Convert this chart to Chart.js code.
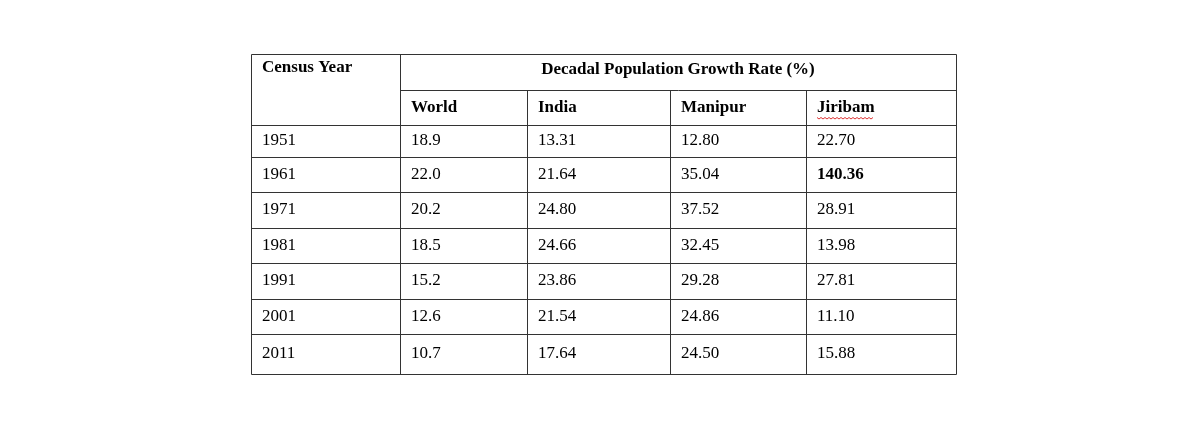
<!DOCTYPE html>
<html>
<head>
<meta charset="utf-8">
<script src="https://cdn.jsdelivr.net/npm/chart.js@4/dist/chart.umd.min.js"></script>
<style>
  html, body { margin: 0; padding: 0; background: #fff; }
  #wrap { width: 1200px; height: 430px; }
</style>
</head>
<body>
<div id="wrap"><canvas id="tableChart"></canvas></div>
<script>
const censusYears = ["1951", "1961", "1971", "1981", "1991", "2001", "2011"];
const regions = ["World", "India", "Manipur", "Jiribam"];
const worldRates = ["18.9", "22.0", "20.2", "18.5", "15.2", "12.6", "10.7"];
const indiaRates = ["13.31", "21.64", "24.80", "24.66", "23.86", "21.54", "17.64"];
const manipurRates = ["12.80", "35.04", "37.52", "32.45", "29.28", "24.86", "24.50"];
const jiribamRates = ["22.70", "140.36", "28.91", "13.98", "27.81", "11.10", "15.88"];
const boldCells = [[1, 3]]; // row, region index

// column edges in table units (x), row edges (y)
const colEdges = [0, 149, 276, 419, 555, 705];
const rowEdges = [0, 36, 71, 103, 138, 174, 209, 245, 280, 320];

const FONT = '"Liberation Serif", "Times New Roman", serif';

const tablePlugin = {
  id: "tableDraw",
  afterDraw(chart) {
    const ctx = chart.ctx;
    const xs = chart.scales.x, ys = chart.scales.y;
    const X = (v) => xs.getPixelForValue(v);
    const Y = (v) => ys.getPixelForValue(v);
    ctx.save();
    ctx.strokeStyle = "#333";
    ctx.lineWidth = 1;
    const line = (x1, y1, x2, y2) => {
      ctx.beginPath();
      ctx.moveTo(Math.round(X(x1)) + 0.5, Math.round(Y(y1)) + 0.5);
      ctx.lineTo(Math.round(X(x2)) + 0.5, Math.round(Y(y2)) + 0.5);
      ctx.stroke();
    };
    const last = colEdges.length - 1;
    // horizontal lines
    rowEdges.forEach((r, i) => {
      if (i === 1) line(colEdges[1], r, colEdges[last], r);
      else line(colEdges[0], r, colEdges[last], r);
    });
    // vertical lines
    colEdges.forEach((c, i) => {
      if (i >= 2 && i < last) line(c, rowEdges[1], c, rowEdges[rowEdges.length - 1]);
      else line(c, rowEdges[0], c, rowEdges[rowEdges.length - 1]);
    });

    ctx.fillStyle = "#000";
    ctx.textBaseline = "middle";
    const pad = 11;
    const text = (s, col, row, bold) => {
      ctx.font = (bold ? "bold " : "") + "17px " + FONT;
      ctx.textAlign = "left";
      const y = (Y(rowEdges[row]) + Y(rowEdges[row + 1])) / 2;
      ctx.fillText(s, X(colEdges[col]) + pad, y);
    };
    // header
    ctx.font = "bold 17px " + FONT;
    ctx.fillText("Census Year", X(colEdges[0]) + pad, (Y(rowEdges[0]) + Y(rowEdges[1])) / 2 - 4);
    ctx.textAlign = "center";
    ctx.fillText("Decadal Population Growth Rate (%)",
      (X(colEdges[1]) + X(colEdges[last])) / 2, (Y(rowEdges[0]) + Y(rowEdges[1])) / 2 - 2);
    regions.forEach((r, i) => text(r, i + 1, 1, true));

    // spellcheck squiggle under Jiribam
    ctx.font = "bold 17px " + FONT;
    const jx = X(colEdges[4]) + pad;
    const jw = ctx.measureText(regions[3]).width;
    const jy = (Y(rowEdges[1]) + Y(rowEdges[2])) / 2 + 10;
    ctx.strokeStyle = "#d33";
    ctx.beginPath();
    for (let x = 0; x <= jw; x += 2) {
      const yy = jy + ((x / 2) % 2 === 0 ? 0 : 1.5);
      if (x === 0) ctx.moveTo(jx + x, yy); else ctx.lineTo(jx + x, yy);
    }
    ctx.stroke();

    const series = [worldRates, indiaRates, manipurRates, jiribamRates];
    censusYears.forEach((yr, r) => {
      text(yr, 0, r + 2, false);
      series.forEach((s, c) => {
        const bold = boldCells.some(([br, bc]) => br === r && bc === c);
        text(s[r], c + 1, r + 2, bold);
      });
    });
    ctx.restore();
  }
};

new Chart(document.getElementById("tableChart"), {
  type: "scatter",
  data: { datasets: [{ data: [], pointRadius: 0 }] },
  options: {
    responsive: true,
    maintainAspectRatio: false,
    animation: false,
    layout: { padding: { left: 251, right: 244, top: 54, bottom: 56 } },
    plugins: { legend: { display: false }, tooltip: { enabled: false } },
    scales: {
      x: { type: "linear", display: false, min: 0, max: colEdges[colEdges.length - 1] },
      y: { type: "linear", display: false, reverse: true, min: 0, max: rowEdges[rowEdges.length - 1] }
    }
  },
  plugins: [tablePlugin]
});
</script>
</body>
</html>
